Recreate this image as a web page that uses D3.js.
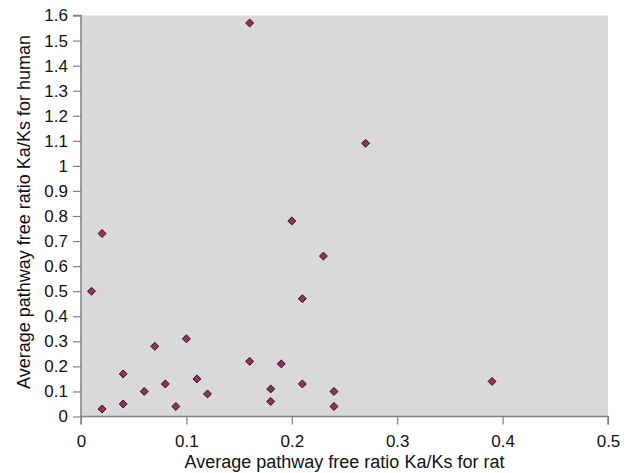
<!DOCTYPE html>
<html>
<head>
<meta charset="utf-8">
<script src="https://cdn.jsdelivr.net/npm/d3@7"></script>
<style>
  html, body { margin: 0; padding: 0; background: #fff; }
  svg { display: block; }
  text { font-family: "Liberation Sans", Arial, sans-serif; fill: #111; }
</style>
</head>
<body>
<svg id="chart" width="636" height="473"></svg>
<script>
// Average pathway free Ka/Ks ratios: rat (x) vs human (y)
const ratRatio   = [0.01, 0.02, 0.02, 0.04, 0.04, 0.06, 0.07, 0.08, 0.09, 0.10, 0.11, 0.12,
                    0.16, 0.16, 0.18, 0.18, 0.19, 0.20, 0.21, 0.21, 0.23, 0.24, 0.24, 0.27, 0.39];
const humanRatio = [0.50, 0.03, 0.73, 0.17, 0.05, 0.10, 0.28, 0.13, 0.04, 0.31, 0.15, 0.09,
                    0.22, 1.57, 0.11, 0.06, 0.21, 0.78, 0.47, 0.13, 0.64, 0.10, 0.04, 1.09, 0.14];
const xTicks = [0, 0.1, 0.2, 0.3, 0.4, 0.5];
const yTicks = [0, 0.1, 0.2, 0.3, 0.4, 0.5, 0.6, 0.7, 0.8, 0.9, 1, 1.1, 1.2, 1.3, 1.4, 1.5, 1.6];
const xTitle = "Average pathway free ratio Ka/Ks for rat";
const yTitle = "Average pathway free ratio Ka/Ks for human";

const points = ratRatio.map((r, i) => ({ x: r, y: humanRatio[i] }));

const svg = d3.select("#chart");
const plot = { left: 81, top: 15.5, right: 608, bottom: 416.5 };

const x = d3.scaleLinear().domain([0, 0.5]).range([plot.left, plot.right]);
const y = d3.scaleLinear().domain([0, 1.6]).range([plot.bottom, plot.top]);

// Grey plot area
svg.append("rect")
  .attr("x", plot.left).attr("y", plot.top)
  .attr("width", plot.right - plot.left).attr("height", plot.bottom - plot.top)
  .attr("fill", "#d9d9d9");

const fmt = d => (d === 0 || d === 1) ? String(d) : d3.format(".1f")(d);

// Y axis
const yAxis = svg.append("g")
  .attr("transform", `translate(${plot.left},0)`)
  .call(d3.axisLeft(y).tickValues(yTicks).tickFormat(fmt).tickSize(8).tickPadding(5));
// X axis
const xAxis = svg.append("g")
  .attr("transform", `translate(0,${plot.bottom})`)
  .call(d3.axisBottom(x).tickValues(xTicks).tickFormat(fmt).tickSize(8).tickPadding(10));

[yAxis, xAxis].forEach(g => {
  g.select(".domain").attr("stroke", "#808080").attr("stroke-width", 1.5);
  g.selectAll(".tick line").attr("stroke", "#808080").attr("stroke-width", 1.2);
  g.selectAll(".tick text")
    .attr("font-family", "'Liberation Sans', Arial, sans-serif")
    .attr("font-size", 17).attr("fill", "#111");
});
yAxis.select(".domain").attr("d", `M-8,${plot.top}H0V${plot.bottom}`);
xAxis.select(".domain").attr("d", `M${plot.left},8V0H${plot.right}V8`);

// Data markers: diamonds
const diamond = d3.symbol().type(d3.symbolDiamond2).size(40);
svg.append("g").selectAll("path")
  .data(points)
  .join("path")
  .attr("d", diamond)
  .attr("transform", d => `translate(${x(d.x)},${y(d.y)})`)
  .attr("fill", "#9c2b60")
  .attr("stroke", "#1a1a1a")
  .attr("stroke-width", 1);

// Axis titles
svg.append("text")
  .attr("x", 344.5).attr("y", 468)
  .attr("text-anchor", "middle").attr("font-size", 18)
  .text(xTitle);
svg.append("text")
  .attr("transform", "translate(30,212) rotate(-90)")
  .attr("text-anchor", "middle").attr("font-size", 18)
  .text(yTitle);
</script>
</body>
</html>
